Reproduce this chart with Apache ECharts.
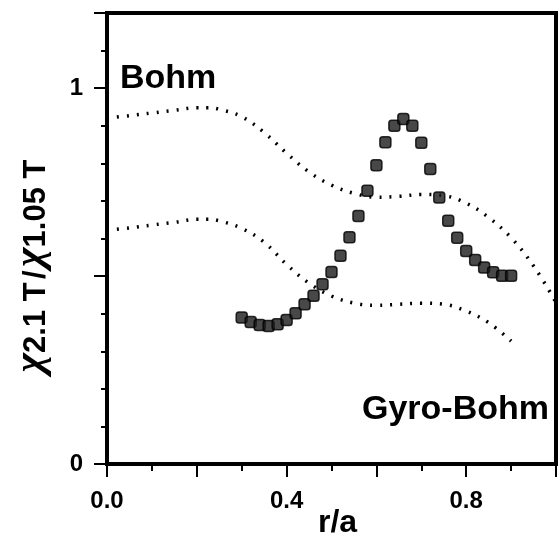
<!DOCTYPE html>
<html>
<head>
<meta charset="utf-8">
<script src="https://cdn.jsdelivr.net/npm/echarts@6/dist/echarts.min.js"></script>
<style>
  html, body { margin: 0; padding: 0; background: #fff; }
  #chart { width: 559px; height: 537px; }
</style>
</head>
<body>
<div id="chart"></div>
<script>
// measured ratio chi(2.1T)/chi(1.05T)
const ratioX = [0.30, 0.32, 0.34, 0.36, 0.38, 0.40, 0.42, 0.44, 0.46, 0.48, 0.50,
  0.52, 0.54, 0.56, 0.58, 0.60, 0.62, 0.64, 0.66, 0.68, 0.70, 0.72, 0.74, 0.76,
  0.78, 0.80, 0.82, 0.84, 0.86, 0.88, 0.90];
const ratioY = [0.390, 0.378, 0.370, 0.367, 0.372, 0.383, 0.401, 0.425, 0.448, 0.478, 0.511,
  0.554, 0.603, 0.660, 0.727, 0.795, 0.856, 0.900, 0.918, 0.900, 0.855, 0.785, 0.709, 0.647,
  0.602, 0.567, 0.543, 0.523, 0.510, 0.501, 0.501];

// Bohm scaling curve
const bohmX = [0.0, 0.05, 0.10, 0.15, 0.20, 0.225, 0.25, 0.30, 0.35, 0.40, 0.45, 0.50,
  0.55, 0.60, 0.65, 0.70, 0.75, 0.80, 0.85, 0.90, 0.95, 1.0];
const bohmY = [0.920, 0.927, 0.934, 0.941, 0.948, 0.948, 0.944, 0.924, 0.882, 0.827, 0.777, 0.742,
  0.720, 0.710, 0.712, 0.717, 0.714, 0.694, 0.656, 0.602, 0.527, 0.430];

// gyro-Bohm scaling curve
const gyroX = [0.0, 0.05, 0.10, 0.15, 0.20, 0.225, 0.25, 0.30, 0.35, 0.40, 0.45, 0.50,
  0.55, 0.60, 0.65, 0.70, 0.75, 0.80, 0.85, 0.90];
const gyroY = [0.622, 0.628, 0.636, 0.643, 0.651, 0.651, 0.647, 0.627, 0.590, 0.531, 0.481, 0.447,
  0.428, 0.422, 0.425, 0.428, 0.425, 0.407, 0.376, 0.327];

const xLabels = [0, 0.4, 0.8];
const yLabels = [0, 1];

const pairs = (xs, ys) => xs.map((x, i) => [x, ys[i]]);
const font = 'Liberation Sans, Arial, sans-serif';

const chart = echarts.init(document.getElementById('chart'));

const dotted = {
  type: 'line',
  smooth: 0.4,
  showSymbol: false,
  silent: true,
  lineStyle: { color: '#000', width: 3.5, type: [2, 8] },
  z: 2,
};

chart.setOption({
  animation: false,
  backgroundColor: '#fff',
  grid: {
    left: 107, right: 3, top: 13, bottom: 73,
    outerBoundsMode: 'none',
    containLabel: false,
    show: true, borderColor: '#000', borderWidth: 4,
  },
  xAxis: {
    type: 'value',
    min: 0, max: 1.0, interval: 0.2,
    name: 'r/a',
    nameLocation: 'middle',
    nameGap: 43,
    nameMoveOverlap: false,
    nameTextStyle: { fontFamily: font, fontWeight: 'bold', fontSize: 32, color: '#000', padding: [0, 0, 0, 12] },
    axisLine: { lineStyle: { color: '#000', width: 4 } },
    axisTick: { inside: false, length: 13, lineStyle: { color: '#000', width: 2 } },
    minorTick: { show: true, splitNumber: 2, length: 7, lineStyle: { color: '#000', width: 2 } },
    splitLine: { show: false },
    axisLabel: {
      margin: 25,
      fontFamily: font, fontWeight: 'bold', fontSize: 24, color: '#000',
      formatter: v => xLabels.some(l => Math.abs(l - v) < 1e-6) ? v.toFixed(1) : '',
    },
  },
  yAxis: {
    type: 'value',
    min: 0, max: 1.2, interval: 0.5,
    axisLine: { lineStyle: { color: '#000', width: 4 } },
    axisTick: { inside: false, length: 13, lineStyle: { color: '#000', width: 2 } },
    minorTick: { show: true, splitNumber: 5, length: 6, lineStyle: { color: '#000', width: 2 } },
    splitLine: { show: false },
    axisLabel: {
      margin: 24,
      fontFamily: font, fontWeight: 'bold', fontSize: 24, color: '#000',
      formatter: v => yLabels.some(l => Math.abs(l - v) < 1e-6) ? String(Math.round(v)) : '',
    },
  },
  graphic: [
    {
      type: 'text', left: 120, top: 62,
      style: { text: 'Bohm', font: 'bold 34px ' + font, fill: '#000' },
    },
    {
      type: 'text', left: 362, top: 393,
      style: { text: 'Gyro-Bohm', font: 'bold 34px ' + font, fill: '#000' },
    },
    {
      type: 'text', x: 31, y: 266, rotation: Math.PI / 2,
      style: {
        text: '{c|χ}{s|2.1 T} {s|/} {c|χ}{s|1.05 T}',
        align: 'center', verticalAlign: 'middle', fill: '#000',
        rich: {
          c: { fontFamily: 'Liberation Serif, serif', fontStyle: 'italic', fontWeight: 'bold', fontSize: 42, lineHeight: 42, fill: '#000' },
          s: { fontFamily: font, fontWeight: 'bold', fontSize: 31, lineHeight: 31, verticalAlign: 'bottom', fill: '#000' },
        },
      },
    },
  ],
  series: [
    Object.assign({ name: 'Bohm', data: pairs(bohmX, bohmY) }, dotted),
    Object.assign({ name: 'Gyro-Bohm', data: pairs(gyroX, gyroY) }, dotted),
    {
      name: 'ratio',
      type: 'scatter',
      data: pairs(ratioX, ratioY),
      symbol: 'roundRect',
      symbolSize: 11,
      itemStyle: { color: '#1a1a1a', borderColor: '#000', borderWidth: 1.5 },
      z: 3,
    },
  ],
});
</script>
</body>
</html>
